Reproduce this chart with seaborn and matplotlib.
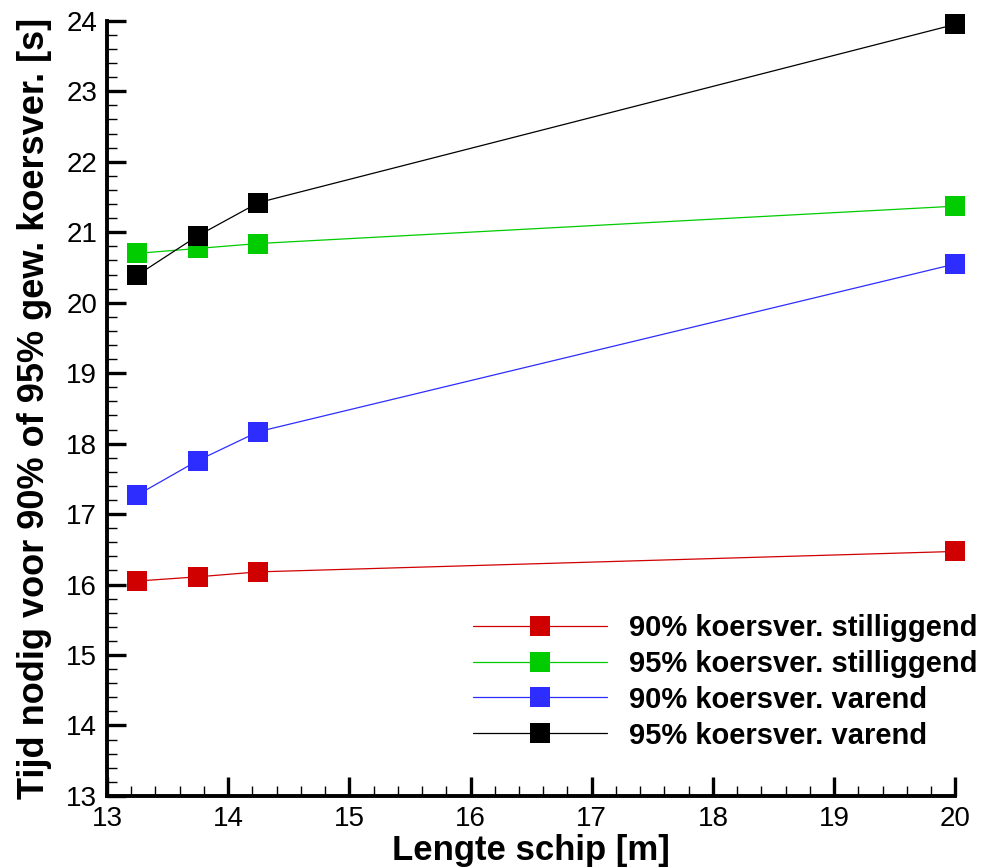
import seaborn as sns
import pandas as pd
import matplotlib.pyplot as plt
from matplotlib.lines import Line2D
from matplotlib.ticker import MultipleLocator

# ship length [m]
lengte = [13.25, 13.75, 14.25, 20.0]

# time needed [s]
rood_90_stil = [16.05, 16.11, 16.18, 16.47]
groen_95_stil = [20.70, 20.77, 20.84, 21.37]
blauw_90_varend = [17.27, 17.76, 18.17, 20.55]
zwart_95_varend = [20.39, 20.95, 21.42, 23.95]

reeksen = [
    "90% koersver. stilliggend",
    "95% koersver. stilliggend",
    "90% koersver. varend",
    "95% koersver. varend",
]
kleuren = ["#d00000", "#00cc00", "#2d2dff", "#000000"]

rows = []
for naam, waarden in zip(reeksen, [rood_90_stil, groen_95_stil, blauw_90_varend, zwart_95_varend]):
    for x, y in zip(lengte, waarden):
        rows.append({"lengte": x, "tijd": y, "reeks": naam})
df = pd.DataFrame(rows)

sns.set_style("white")
plt.rcParams["font.family"] = ["Liberation Sans", "DejaVu Sans"]
plt.rcParams["text.color"] = "black"
plt.rcParams["axes.labelcolor"] = "black"
plt.rcParams["xtick.color"] = "black"
plt.rcParams["ytick.color"] = "black"

fig = plt.figure(figsize=(9.9, 8.68), dpi=100)
ax = fig.add_axes([0.108, 0.083, 0.857, 0.893])

sns.lineplot(data=df, x="lengte", y="tijd", hue="reeks", hue_order=reeksen,
             palette=kleuren, marker="s", markersize=14, markeredgewidth=0,
             linewidth=0.9, legend=False, ax=ax)
for ln in ax.lines:
    ln.set_clip_on(False)

ax.set_xlim(13, 20)
ax.set_ylim(13, 24)
ax.xaxis.set_major_locator(MultipleLocator(1))
ax.xaxis.set_minor_locator(MultipleLocator(0.2))
ax.yaxis.set_major_locator(MultipleLocator(1))
ax.yaxis.set_minor_locator(MultipleLocator(0.2))
ax.tick_params(which="major", direction="in", length=14, width=2.4, labelsize=20,
               top=False, right=False, bottom=True, left=True, pad=7)
ax.tick_params(which="minor", direction="in", length=7, width=1.0,
               top=False, right=False, bottom=True, left=True)

for side in ["top", "right"]:
    ax.spines[side].set_visible(False)
for side in ["left", "bottom"]:
    ax.spines[side].set_linewidth(2.8)
    ax.spines[side].set_color("black")

ax.set_xlabel("Lengte schip [m]", fontsize=25, fontweight="bold", labelpad=2)
ax.set_ylabel("Tijd nodig voor 90% of 95% gew. koersver. [s]", fontsize=26,
              fontweight="bold", labelpad=10)

handles = [Line2D([0], [0], color=c, lw=0.9, marker="s", markersize=14,
                  markeredgewidth=0) for c in kleuren]
leg = ax.legend(handles, reeksen, loc="upper left", bbox_to_anchor=(0.451, 0.323),
                bbox_transform=fig.transFigure, frameon=False, handlelength=4.6,
                handletextpad=0.75, labelspacing=0.27,
                prop={"size": 21, "weight": "bold"})

plt.savefig("out.png", dpi=100)
